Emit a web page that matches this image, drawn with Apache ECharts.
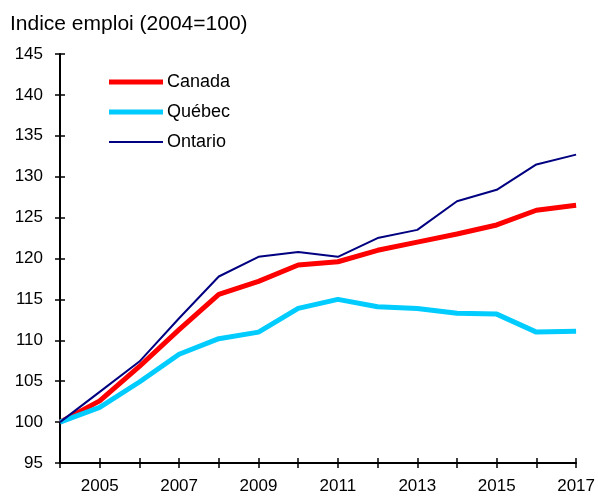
<!DOCTYPE html>
<html>
<head>
<meta charset="utf-8">
<script src="https://cdn.jsdelivr.net/npm/echarts@6/dist/echarts.min.js"></script>
<style>
  html, body { margin: 0; padding: 0; background: #fff; }
  #chart { width: 598px; height: 497px; }
</style>
</head>
<body>
<div id="chart"></div>
<script>
var years = ['2004', '2005', '2006', '2007', '2008', '2009', '2010', '2011', '2012', '2013', '2014', '2015', '2016', '2017'];
var canada  = [100, 102.6, 106.8, 111.3, 115.6, 117.2, 119.2, 119.6, 121.0, 122.0, 123.0, 124.1, 125.9, 126.5];
var quebec  = [100, 101.8, 104.9, 108.3, 110.2, 111.0, 113.9, 115.0, 114.1, 113.9, 113.3, 113.2, 111.0, 111.1];
var ontario = [100, 103.7, 107.4, 112.7, 117.8, 120.2, 120.8, 120.2, 122.5, 123.5, 127.0, 128.4, 131.5, 132.7];

var font = 'Liberation Sans, Arial, sans-serif';
var chart = echarts.init(document.getElementById('chart'));

// legend swatches: plain bars, thick for Canada / Québec, thin for Ontario
var thickIcon = 'path://M0,0H54V5H0Z';
var thinIcon = 'path://M0,0H54V2H0Z';

var option = {
  animation: false,
  textStyle: { fontFamily: font },
  title: {
    text: 'Indice emploi (2004=100)',
    left: 5,
    top: 9,
    textStyle: { fontFamily: font, fontSize: 21, fontWeight: 'normal', color: '#000' }
  },
  legend: {
    orient: 'vertical',
    left: 104,
    top: 68,
    itemWidth: 54,
    itemHeight: 14,
    itemGap: 12,
    symbolKeepAspect: true,
    textStyle: { fontFamily: font, fontSize: 18, color: '#000', padding: [0, 0, 0, -1] },
    data: [
      { name: 'Canada', icon: thickIcon },
      { name: 'Québec', icon: thickIcon },
      { name: 'Ontario', icon: thinIcon }
    ]
  },
  grid: { left: 60, right: 21, top: 54, bottom: 34 },
  xAxis: [{
    type: 'category',
    boundaryGap: false,
    data: years,
    axisLine: { lineStyle: { color: '#000', width: 2 } },
    axisTick: { interval: 0, length: 5, lineStyle: { color: '#000', width: 1.5 } },
    axisLabel: {
      interval: function (index) { return index % 2 === 1; },
      margin: 15,
      fontSize: 17,
      color: '#000'
    },
    splitLine: { show: false }
  }, {
    // inner half of the crossing ticks
    type: 'category',
    position: 'bottom',
    boundaryGap: false,
    data: years,
    axisLine: { show: false },
    axisTick: { interval: 0, inside: true, length: 5, lineStyle: { color: '#000', width: 1.5 } },
    axisLabel: { show: false }
  }],
  yAxis: [{
    type: 'value',
    min: 95,
    max: 145,
    interval: 5,
    axisLine: { show: true, lineStyle: { color: '#000', width: 2 } },
    axisTick: { show: true, length: 5, lineStyle: { color: '#000', width: 1.5 } },
    axisLabel: { margin: 17, fontSize: 17, color: '#000' },
    splitLine: { show: false }
  }, {
    type: 'value',
    position: 'left',
    min: 95,
    max: 145,
    interval: 5,
    axisLine: { show: false },
    axisTick: { show: true, inside: true, length: 5, lineStyle: { color: '#000', width: 1.5 } },
    axisLabel: { show: false },
    splitLine: { show: false }
  }],
  series: [
    {
      name: 'Canada',
      type: 'line',
      data: canada,
      symbol: 'none',
      color: '#ff0000',
      lineStyle: { width: 5, color: '#ff0000' }
    },
    {
      name: 'Québec',
      type: 'line',
      data: quebec,
      symbol: 'none',
      color: '#00ccff',
      lineStyle: { width: 5, color: '#00ccff' }
    },
    {
      name: 'Ontario',
      type: 'line',
      data: ontario,
      symbol: 'none',
      color: '#000080',
      lineStyle: { width: 2, color: '#000080' }
    }
  ]
};
chart.setOption(option);
</script>
</body>
</html>
